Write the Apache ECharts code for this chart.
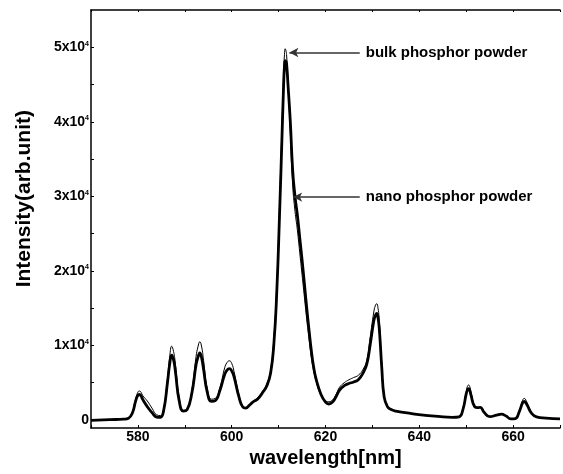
<!DOCTYPE html>
<html>
<head>
<meta charset="utf-8">
<script src="https://cdn.jsdelivr.net/npm/echarts@6/dist/echarts.min.js"></script>
<style>
html,body{margin:0;padding:0;background:#fff;}
#chart{width:563px;height:474px;}
</style>
</head>
<body>
<div id="chart"></div>
<script>
// wavelength [nm]
const wavelength = [570, 574, 577, 578, 578.8, 579.5, 579.9, 580.3, 580.7, 581, 582, 583, 584, 584.8, 585.5, 586.3, 586.8, 587.2, 587.6, 588, 588.8, 589.7, 590.5, 591.5, 592.4, 592.8, 593.2, 593.6, 594, 594.8, 595.7, 596.5, 597.5, 598.5, 599, 599.5, 600, 600.5, 601.5, 602.3, 603, 603.8, 604.5, 605.5, 606.5, 607.5, 608.3, 609, 609.6, 610.2, 610.7, 611.1, 611.25, 611.4, 611.55, 611.7, 612, 612.5, 613, 613.5, 614, 614.5, 615, 615.5, 616, 616.5, 617, 617.5, 618, 619, 620, 620.7, 621.5, 622.3, 623, 624, 625, 626, 627, 628, 628.8, 629.5, 630.3, 630.6, 630.9, 631.2, 631.5, 632, 632.5, 633.2, 634, 635, 637, 639, 641, 644, 647, 648.5, 649.3, 650, 650.25, 650.5, 650.75, 651, 651.8, 652.5, 653, 653.8, 655, 656.5, 657.5, 658.5, 659.5, 660.5, 661.3, 662, 662.2, 662.4, 662.7, 663, 664, 665, 667, 670];
// bulk phosphor powder intensity
const bulk = [-50, 50, 150, 300, 1000, 2800, 3600, 3900, 3700, 3300, 2550, 1600, 700, 600, 1500, 5500, 8600, 9900, 9200, 7500, 3000, 1300, 1500, 4000, 8500, 9800, 10500, 9800, 8000, 4200, 2800, 2900, 4400, 7000, 7700, 7950, 7600, 6500, 3500, 1900, 1650, 2100, 2500, 3000, 3800, 4900, 6700, 11000, 18000, 29000, 39000, 47000, 49000, 49800, 49600, 49000, 45500, 38500, 31500, 28000, 25500, 22500, 19500, 16500, 13500, 10800, 8300, 6500, 5200, 3400, 2600, 2450, 2700, 3500, 4400, 5000, 5400, 5700, 6000, 6800, 8000, 11000, 14500, 15300, 15600, 15000, 13000, 7500, 3300, 1900, 1450, 1250, 1000, 800, 650, 500, 380, 450, 1500, 3800, 4500, 4700, 4500, 3800, 1900, 1700, 1750, 1100, 450, 650, 800, 550, 150, 200, 1200, 2600, 2850, 2900, 2700, 2300, 900, 450, 250, 150];
// nano phosphor powder intensity
const nano = [-50, 50, 120, 250, 900, 2500, 3200, 3450, 3200, 2800, 1800, 1000, 400, 350, 1300, 5000, 7600, 8700, 8100, 6500, 2600, 1200, 1400, 3600, 7400, 8400, 9000, 8300, 6800, 3700, 2500, 2600, 4000, 6100, 6700, 6900, 6600, 5800, 3200, 1800, 1600, 2000, 2400, 2800, 3600, 4600, 6300, 10300, 17000, 27500, 37500, 45500, 47400, 48200, 48100, 47800, 45000, 40000, 33500, 30000, 27500, 24500, 21500, 18300, 15000, 12000, 9200, 7000, 5500, 3500, 2400, 2150, 2400, 3200, 4000, 4600, 4900, 5100, 5400, 6300, 7500, 10000, 13300, 14000, 14300, 13700, 12000, 7000, 3100, 1800, 1400, 1200, 1000, 800, 650, 480, 360, 430, 1400, 3500, 4000, 4200, 4000, 3400, 1800, 1650, 1700, 1050, 450, 650, 780, 530, 150, 200, 1100, 2300, 2450, 2500, 2300, 2000, 850, 430, 250, 150];
// y tick labels (values); label text mantissa x10^4
const yLabelValues = [0, 10000, 20000, 30000, 40000, 50000];
const yTickValues = [0, 5000, 10000, 15000, 20000, 25000, 30000, 35000, 40000, 45000, 50000];
const xLabelValues = [580, 600, 620, 640, 660];
// annotations: [tip wavelength, tip intensity, text end wavelength, text]
const annoBulk = [612.3, 49300, 627.3, 'bulk phosphor powder'];
const annoNano = [613.1, 29900, 627.3, 'nano phosphor powder'];

const FONT = '"Liberation Sans", Arial, sans-serif';
const chart = echarts.init(document.getElementById('chart'), null, {renderer: 'canvas'});

function pairs(xs, ys) { return xs.map((x, i) => [x, ys[i]]); }
function anno(a) {
  return {
    silent: true,
    animation: false,
    symbol: ['arrow', 'none'],
    symbolSize: [7, 9],
    lineStyle: {color: '#333', width: 1.5, type: 'solid'},
    label: {
      show: true, position: 'end', distance: 6,
      formatter: a[3], color: '#000',
      fontFamily: FONT, fontWeight: 'bold', fontSize: 15
    },
    data: [[{coord: [a[0], a[1]]}, {coord: [a[2], a[1]]}]]
  };
}

const option = {
  animation: false,
  backgroundColor: '#fff',
  grid: {left: 91, top: 10, right: 0, bottom: 46, containLabel: false},
  xAxis: [{
    type: 'value', position: 'bottom', min: 570, max: 670, interval: 10,
    axisLine: {show: true, onZero: false, lineStyle: {color: '#000', width: 1.5}},
    axisTick: {show: true, inside: true, length: 3, lineStyle: {color: '#000', width: 1}},
    splitLine: {show: false},
    axisLabel: {
      margin: 2, color: '#000', fontFamily: FONT, fontWeight: 'bold', fontSize: 14,
      formatter: v => xLabelValues.indexOf(v) >= 0 ? String(v) : ''
    },
    name: 'wavelength[nm]', nameLocation: 'middle', nameGap: 18,
    nameTextStyle: {color: '#000', fontFamily: FONT, fontWeight: 'bold', fontSize: 20}
  }, {
    type: 'value', position: 'top', min: 570, max: 670, interval: 10,
    axisLine: {show: true, onZero: false, lineStyle: {color: '#000', width: 1.5}},
    axisTick: {show: true, inside: true, length: 2, lineStyle: {color: '#000', width: 1}},
    axisLabel: {show: false}, splitLine: {show: false}
  }],
  yAxis: [{
    type: 'value', min: -1070, max: 55000,
    axisLine: {show: true, onZero: false, lineStyle: {color: '#000', width: 1.5}},
    axisTick: {show: true, inside: true, length: 3, customValues: yTickValues, lineStyle: {color: '#000', width: 1}},
    splitLine: {show: false},
    axisLabel: {
      margin: 2, customValues: yLabelValues,
      formatter: v => v === 0 ? '{b|0}' : '{b|' + (v / 10000) + 'x10}{s|4}',
      rich: {
        b: {color: '#000', fontFamily: FONT, fontWeight: 'bold', fontSize: 14},
        s: {color: '#000', fontFamily: FONT, fontWeight: 'bold', fontSize: 7, verticalAlign: 'top', padding: [0, 0, 6, 0]}
      }
    }
  }],
  graphic: [{
    type: 'text', left: 14, top: 110,
    rotation: Math.PI / 2,
    style: {text: 'Intensity(arb.unit)', fill: '#000', font: 'bold 21px ' + FONT}
  }],
  series: [{
    name: 'nano', type: 'line', data: pairs(wavelength, nano),
    showSymbol: false, smooth: 0.5, z: 2,
    lineStyle: {color: '#000', width: 2.8},
    markLine: anno(annoNano)
  }, {
    name: 'bulk', type: 'line', data: pairs(wavelength, bulk),
    showSymbol: false, smooth: 0.5, z: 3,
    lineStyle: {color: '#000', width: 1},
    markLine: anno(annoBulk)
  }]
};
chart.setOption(option);
</script>
</body>
</html>
